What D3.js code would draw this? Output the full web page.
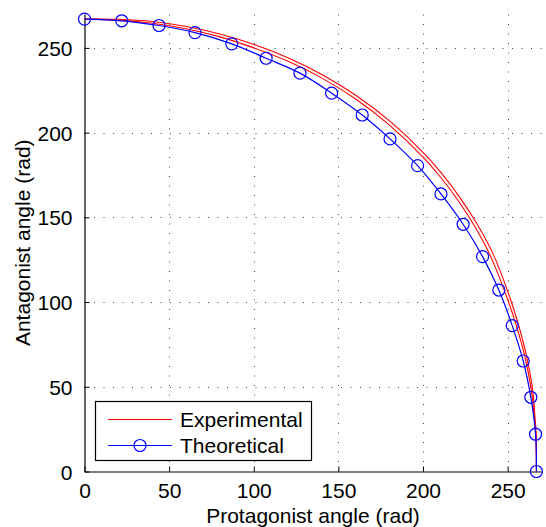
<!DOCTYPE html>
<html><head><meta charset="utf-8">
<script src="https://cdn.jsdelivr.net/npm/d3@7"></script>
<style>
html,body{margin:0;padding:0;background:#fff;}
text{font-family:"Liberation Sans",Arial,Helvetica,sans-serif;fill:#000;}
</style></head>
<body><svg id="c" width="546" height="527"></svg>
<script>
// ---- data ----
const xTicks = [0, 50, 100, 150, 200, 250];
const yTicks = [0, 50, 100, 150, 200, 250];
const seriesNames = ["Experimental", "Theoretical"];
const xLabel = "Protagonist angle (rad)";
const yLabel = "Antagonist angle (rad)";

// Experimental (two closely spaced red traces)
const exp1X = [0, 20, 40, 60, 80, 100, 120, 140, 160, 180, 200, 210, 220, 230, 240, 250, 255, 260, 264, 265.5, 266.6, 267];
const exp1Y = [267, 266.4, 264.5, 261.3, 256.5, 250, 242.2, 232.3, 220, 204.6, 185.6, 174.1, 161, 145.6, 126.8, 101.5, 86.5, 68.5, 48, 34, 21.5, 0];
const exp2X = [0, 20.04, 40.2, 60.3, 80.5, 100.7, 120.8, 141, 161.1, 181.3, 201.4, 211.5, 221.5, 231.6, 241.7, 251.5, 256.3, 261, 264.8, 266, 266.9, 267];
const exp2Y = [267, 266.9, 265.6, 262.6, 258.0, 251.8, 243.9, 233.9, 221.5, 206, 186.9, 175.3, 162.1, 146.6, 127.7, 102.1, 86.9, 68.8, 48.1, 34.1, 21.5, 0];

// Theoretical
const theoX = [0, 22, 44, 65.3, 87, 107.3, 127.3, 146, 164.1, 180.5, 196.8, 210.6, 223.7, 235.2, 244.8, 252.7, 259.2, 263.7, 266.5, 267];
const theoY = [267, 266, 263.2, 259, 252.4, 243.9, 235.1, 223.3, 210.4, 196.3, 180.5, 163.8, 145.9, 126.8, 107.1, 86.1, 65.2, 43.8, 22, 0];

// ---- layout ----
const svg = d3.select("#c");
const L = 84.5, R = 541.5, T = 14, B = 471.5;
const x = d3.scaleLinear().domain([0, 270]).range([L, R]);
const y = d3.scaleLinear().domain([0, 270]).range([B, T]);
const FS = 21;

// grid
const grid = svg.append("g").attr("stroke", "#444").attr("stroke-width", 1).attr("stroke-dasharray", "1,8.5");
xTicks.filter(d => d > 0).forEach(d => {
  grid.append("line").attr("x1", Math.round(x(d)) + 0.5).attr("x2", Math.round(x(d)) + 0.5).attr("y1", B).attr("y2", T);
});
yTicks.filter(d => d > 0).forEach(d => {
  grid.append("line").attr("y1", Math.round(y(d)) + 0.5).attr("y2", Math.round(y(d)) + 0.5).attr("x1", L).attr("x2", R);
});

// axes
const xAxis = d3.axisBottom(x).tickValues(xTicks).tickSizeInner(-5).tickSizeOuter(0).tickPadding(12);
const yAxis = d3.axisLeft(y).tickValues(yTicks).tickSizeInner(-5).tickSizeOuter(0).tickPadding(12);
const gx = svg.append("g").attr("transform", `translate(0,${B})`).call(xAxis);
const gy = svg.append("g").attr("transform", `translate(${L},0)`).call(yAxis);
[gx, gy].forEach(g => {
  g.select(".domain").attr("stroke", "#000").attr("stroke-width", 1.2);
  g.selectAll(".tick line").attr("stroke", "#000");
  g.selectAll("text").attr("font-size", FS).attr("font-family", "Liberation Sans, Arial, sans-serif").attr("fill", "#000");
});
gy.selectAll(".tick text").attr("dy", "0.36em");

// axis titles
svg.append("text").attr("x", (L + R) / 2).attr("y", 523).attr("text-anchor", "middle").attr("font-size", FS).text(xLabel);
svg.append("text").attr("transform", `translate(30,${(T + B) / 2}) rotate(-90)`).attr("text-anchor", "middle").attr("font-size", FS).text(yLabel);

// lines
const line = d3.line().x(d => x(d[0])).y(d => y(d[1])).curve(d3.curveCatmullRom);
const exp1 = exp1X.map((v, i) => [v, exp1Y[i]]);
const exp2 = exp2X.map((v, i) => [v, exp2Y[i]]);
const theo = theoX.map((v, i) => [v, theoY[i]]);
[exp1, exp2].forEach(pts => {
  svg.append("path").attr("d", line(pts)).attr("fill", "none").attr("stroke", "#ff0000").attr("stroke-width", 1.1);
});
svg.append("path").attr("d", line(theo))
  .attr("fill", "none").attr("stroke", "#0000ff").attr("stroke-width", 1.2);
svg.append("g").selectAll("circle").data(theo).join("circle")
  .attr("cx", d => x(d[0])).attr("cy", d => y(d[1])).attr("r", 6)
  .attr("fill", "none").attr("stroke", "#0000ff").attr("stroke-width", 1.2);

// legend
const lg = svg.append("g");
lg.append("rect").attr("x", 95.5).attr("y", 401.5).attr("width", 216).attr("height", 59).attr("fill", "#fff").attr("stroke", "#000").attr("stroke-width", 1.2);
const rows = [{name: seriesNames[0], color: "#ff0000", marker: false, yy: 419.5}, {name: seriesNames[1], color: "#0000ff", marker: true, yy: 445.5}];
rows.forEach(r => {
  lg.append("line").attr("x1", 108).attr("x2", 172).attr("y1", r.yy).attr("y2", r.yy).attr("stroke", r.color).attr("stroke-width", 1.2);
  if (r.marker) lg.append("circle").attr("cx", 140).attr("cy", r.yy).attr("r", 6).attr("fill", "none").attr("stroke", r.color).attr("stroke-width", 1.2);
  lg.append("text").attr("x", 180).attr("y", r.yy).attr("dy", "0.36em").attr("font-size", FS).text(r.name);
});
</script></body></html>
